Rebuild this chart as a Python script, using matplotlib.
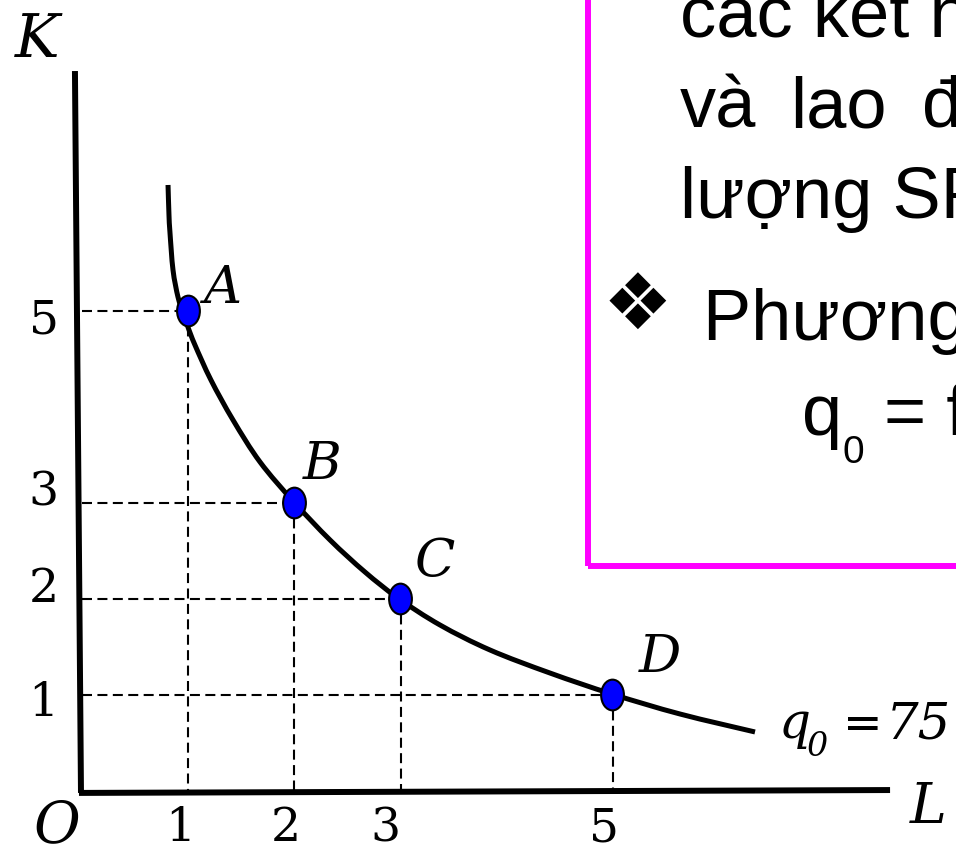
import matplotlib
matplotlib.use("Agg")
import matplotlib.pyplot as plt
from matplotlib.patches import Ellipse, Rectangle, PathPatch
from matplotlib.path import Path

# ---- data -------------------------------------------------------------
point_names = ["A", "B", "C", "D"]
labour = [1, 2, 3, 5]          # L
capital = [5, 3, 2, 1]         # K
output_value = 75

# isoquant q0 = 75, traced as (L, K) pairs
curve_L = [0.807, 0.816, 0.825, 0.854, 0.901, 0.948, 0.995, 1.061, 1.212,
           1.420, 1.675, 1.995, 2.335, 2.665, 2.976, 3.373, 3.844, 4.410,
           4.995, 5.637, 6.344]
curve_K = [6.313, 6.000, 5.823, 5.427, 5.146, 4.990, 4.833, 4.646, 4.281,
           3.865, 3.427, 3.010, 2.615, 2.281, 2.010, 1.729, 1.469, 1.229,
           1.010, 0.802, 0.615]

x_ticks = [1, 2, 3, 5]
y_ticks = [5, 3, 2, 1]

box_line1 = "các kết hợp khác nhau giữa vốn"
box_line2_words = ["và", "lao", "động để sản xuất ra một"]
box_line3 = "lượng SP nhất định"
box_bullet = "\u2756"
box_heading = "Phương trình:"
box_formula_rest = "= f(K, L)"

# ---- figure -----------------------------------------------------------
fig = plt.figure(figsize=(9.56, 8.51), dpi=100)
ax = fig.add_axes([0, 0, 1, 1])
ax.set_xlim(-0.778, 8.24)
ax.set_ylim(-0.625, 8.24)
ax.axis("off")

serif_it = dict(family="DejaVu Serif", style="italic")
serif = dict(family="DejaVu Serif")
sans = dict(family="Liberation Sans")

# axes drawn as thick strokes
ax.plot([-0.071, -0.014], [7.50, -0.02], color="black", lw=4.3,
        solid_capstyle="butt", zorder=3)
ax.plot([-0.033, 7.618], [-0.02, 0.01], color="black", lw=4.3,
        solid_capstyle="butt", zorder=3)

# guide lines from each combination to the axes
dash = (0, (4.8, 2.6))
for L, K in zip(labour, capital):
    ax.plot([0.0, L], [K, K], color="black", lw=1.5, ls=dash, zorder=2)
    ax.plot([L, L], [K, 0.0], color="black", lw=1.5, ls=dash, zorder=2)

# isoquant: smooth cubic segments through the traced points
pts = list(zip(curve_L, curve_K))
verts = [pts[0]]
codes = [Path.MOVETO]
n = len(pts)
for i in range(n - 1):
    p0 = pts[i - 1] if i > 0 else pts[i]
    p1 = pts[i]
    p2 = pts[i + 1]
    p3 = pts[i + 2] if i + 2 < n else pts[i + 1]
    c1 = (p1[0] + (p2[0] - p0[0]) / 6, p1[1] + (p2[1] - p0[1]) / 6)
    c2 = (p2[0] - (p3[0] - p1[0]) / 6, p2[1] - (p3[1] - p1[1]) / 6)
    verts += [c1, c2, p2]
    codes += [Path.CURVE4] * 3
ax.add_patch(PathPatch(Path(verts, codes), facecolor="none", edgecolor="black",
                       lw=3.6, capstyle="butt", joinstyle="round", zorder=4))

# combination points
for L, K in zip(labour, capital):
    ax.add_patch(Ellipse((L, K), width=0.215, height=0.32, facecolor="#0000FF",
                         edgecolor="black", lw=1.5, zorder=5))

# point labels
label_offsets = [(24, 16), (20, 28), (25, 27), (34, 27)]
for name, L, K, off in zip(point_names, labour, capital, label_offsets):
    ax.annotate(name, (L, K), xytext=off, textcoords="offset points",
                ha="center", va="center", fontsize=38, **serif_it)

# tick labels
x_label_offsets = [(-6, -27), (-6, -27), (-11, -27), (-6, -27)]
for v, off in zip(x_ticks, x_label_offsets):
    ax.annotate(str(v), (v, 0), xytext=off, textcoords="offset points",
                ha="center", va="center", fontsize=34, **serif)
y_label_offsets = [(-28, -7), (-28, 7), (-28, 7), (-28, -6)]
for v, off in zip(y_ticks, y_label_offsets):
    ax.annotate(str(v), (0, v), xytext=off, textcoords="offset points",
                ha="center", va="center", fontsize=34, **serif)

# axis names and origin
ax.text(-0.429, 7.823, "K", ha="center", va="center", fontsize=43, **serif_it)
ax.text(7.976, -0.177, "L", ha="center", va="center", fontsize=40, **serif_it)
ax.text(-0.241, -0.37, "O", ha="center", va="center", fontsize=41, **serif_it)

# isoquant name: q with subscript 0
ax.text(6.57, 0.552, "q", ha="left", va="baseline", fontsize=36, **serif_it)
ax.text(6.83, 0.365, "0", ha="left", va="baseline", fontsize=24, **serif_it)
ax.text(7.17, 0.552, "=", ha="left", va="baseline", fontsize=34, **serif_it)
ax.text(7.58, 0.552, str(output_value), ha="left", va="baseline",
        fontsize=37, **serif_it)

# definition box
ax.add_patch(Rectangle((4.769, 2.344), 6.0, 8.0, fill=False,
                       edgecolor="#FF00FF", lw=4.3, zorder=1))
ax.text(5.637, 7.854, box_line1, ha="left", va="baseline", fontsize=52, **sans)
for word, x in zip(box_line2_words, [5.637, 6.675, 7.92]):
    ax.text(x, 6.917, word, ha="left", va="baseline", fontsize=52, **sans)
ax.text(5.637, 5.969, box_line3, ha="left", va="baseline", fontsize=52, **sans)
ax.text(4.905, 4.8125, box_bullet, ha="left", va="baseline",
        fontsize=56, family="DejaVu Sans")
ax.text(5.854, 4.698, box_heading, ha="left", va="baseline", fontsize=52, **sans)
ax.text(6.788, 3.708, "q", ha="left", va="baseline", fontsize=52, **sans)
ax.text(7.165, 3.417, "0", ha="left", va="baseline", fontsize=28, **sans)
ax.text(7.56, 3.708, box_formula_rest, ha="left", va="baseline",
        fontsize=52, **sans)

fig.savefig("out.png", dpi=100)
